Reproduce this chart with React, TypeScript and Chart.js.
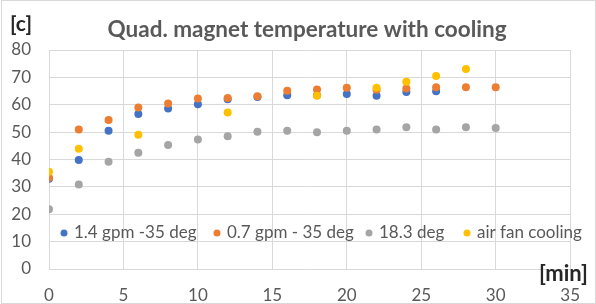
import React, { useEffect, useRef } from "react";
import { Chart, registerables } from "chart.js";
Chart.register(...registerables);

const minutes = [0, 2, 4, 6, 8, 10, 12, 14, 16, 18, 20, 22, 24, 26, 28, 30];
const seriesNames = ["1.4 gpm -35 deg", "0.7 gpm - 35 deg", "18.3 deg", "air fan cooling"];
const gpm14 = [33.0, 39.8, 50.5, 56.6, 58.6, 60.2, 62.0, 62.8, 63.5, 63.5, 63.9, 63.3, 64.7, 64.9, null, null];
const gpm07 = [33.3, 51.0, 54.4, 59.0, 60.5, 62.3, 62.5, 63.1, 65.1, 65.6, 66.2, 65.5, 65.9, 66.4, 66.4, 66.4];
const deg183 = [21.8, 30.9, 39.2, 42.5, 45.3, 47.3, 48.5, 50.1, 50.5, 50.0, 50.5, 51.0, 51.8, 51.0, 51.8, 51.5];
const airFan = [35.5, 43.9, null, 49.0, null, null, 57.2, null, null, 63.3, null, 66.2, 68.4, 70.5, 73.1, null];
const colors = ["#4472C4", "#ED7D31", "#A5A5A5", "#FFC000"];
const titleText = "Quad. magnet temperature with cooling";
const yUnit = "[c]";
const xUnit = "[min]";

const FONT = "Lato, 'Open Sans', sans-serif";

function toPoints(vals: (number | null)[]) {
  const pts: { x: number; y: number }[] = [];
  vals.forEach((v, i) => {
    if (v !== null) pts.push({ x: minutes[i], y: v });
  });
  return pts;
}

const decorPlugin = {
  id: "decor",
  afterDraw(chart: any) {
    const ctx = chart.ctx as CanvasRenderingContext2D;
    const area = chart.chartArea;
    ctx.save();
    // outer border
    ctx.strokeStyle = "#D9D9D9";
    ctx.lineWidth = 1;
    ctx.strokeRect(1.5, 0.5, chart.width - 2, chart.height - 1);
    // title
    ctx.fillStyle = "#595959";
    ctx.font = `bold 22.5px ${FONT}`;
    ctx.textAlign = "center";
    ctx.textBaseline = "alphabetic";
    ctx.fillText(titleText, 307, 37);
    // axis units
    ctx.fillStyle = "#262626";
    ctx.font = `bold 21px ${FONT}`;
    ctx.textAlign = "left";
    ctx.fillText(yUnit, 10, 31);
    ctx.font = `bold 22px ${FONT}`;
    ctx.textAlign = "right";
    ctx.fillText(xUnit, 588, 281);
    // legend
    const legendY = area.bottom - 31;
    const textStarts = [74, 227, 379, 477];
    ctx.font = `17px ${FONT}`;
    ctx.textAlign = "left";
    ctx.textBaseline = "alphabetic";
    seriesNames.forEach((name, i) => {
      const tx = textStarts[i];
      ctx.fillStyle = colors[i];
      ctx.beginPath();
      ctx.arc(tx - 10, legendY - 5, 3.5, 0, Math.PI * 2);
      ctx.fill();
      ctx.fillStyle = "#595959";
      ctx.fillText(name, tx, legendY);
    });
    ctx.restore();
  },
};

export default function App() {
  const ref = useRef<HTMLCanvasElement | null>(null);
  useEffect(() => {
    document.body.style.margin = "0";
    const canvas = ref.current!;
    const series = [gpm14, gpm07, deg183, airFan];
    const chart = new Chart(canvas, {
      type: "scatter",
      data: {
        datasets: series.map((s, i) => ({
          label: seriesNames[i],
          data: toPoints(s),
          backgroundColor: colors[i],
          borderColor: colors[i],
          pointRadius: 4,
          pointBorderWidth: 0,
          order: 4 - i,
        })),
      },
      options: {
        animation: false,
        responsive: false,
        maintainAspectRatio: false,
        layout: { padding: { left: 0, right: 9, top: 50, bottom: 0 } },
        plugins: {
          legend: { display: false },
          title: { display: false },
          tooltip: { enabled: false },
        },
        scales: {
          x: {
            type: "linear",
            min: 0,
            max: 35,
            ticks: {
              stepSize: 5,
              color: "#595959",
              font: { family: FONT, size: 17 },
              padding: 16,
            },
            grid: { color: "#D9D9D9", drawTicks: false },
            border: { display: false },
            afterFit(scale: any) {
              scale.height = 35;
            },
          },
          y: {
            type: "linear",
            min: 0,
            max: 80,
            ticks: {
              stepSize: 10,
              color: "#595959",
              font: { family: FONT, size: 17 },
              padding: 18,
            },
            grid: { color: "#D9D9D9", drawTicks: false },
            border: { display: false },
            afterFit(scale: any) {
              scale.width = 49;
            },
          },
        },
      },
      plugins: [decorPlugin],
    });
    return () => chart.destroy();
  }, []);
  return <canvas ref={ref} width={596} height={304} style={{ display: "block" }} />;
}
